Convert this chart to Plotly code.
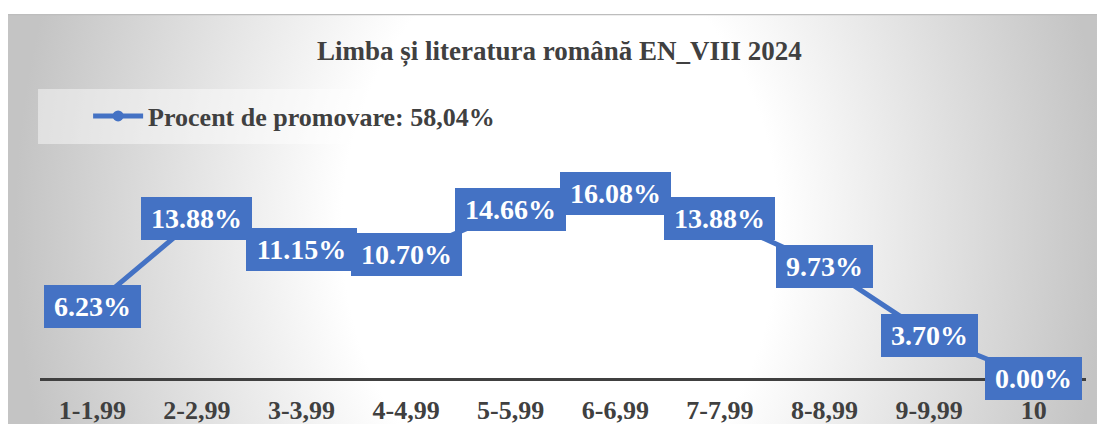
import base64
import plotly.graph_objects as go

categories = ["1-1,99", "2-2,99", "3-3,99", "4-4,99", "5-5,99", "6-6,99",
              "7-7,99", "8-8,99", "9-9,99", "10"]
values = [6.23, 13.88, 11.15, 10.70, 14.66, 16.08, 13.88, 9.73, 3.70, 0.00]
series_name = "Procent de promovare: 58,04%"
title_text = "Limba și literatura română EN_VIII 2024"

BLUE = "#4472C4"
DARK = "#404040"
FONT = "Liberation Serif"
LABEL_SIZE = 28

svg = ('<svg xmlns="http://www.w3.org/2000/svg" width="1089" height="410" '
       'viewBox="0 0 1089 410" preserveAspectRatio="none"><defs>'
       '<radialGradient id="g" gradientUnits="userSpaceOnUse" cx="552" cy="216" r="545" '
       'gradientTransform="translate(552 216) scale(1 1.3) translate(-552 -216)">'
       '<stop offset="0.4" stop-color="#ffffff"/>'
       '<stop offset="1" stop-color="#c4c4c4"/></radialGradient></defs>'
       '<rect width="1089" height="410" fill="url(#g)"/>'
       '<line x1="0" y1="0.5" x2="1089" y2="0.5" stroke="#bdbdbd" stroke-width="1.5"/></svg>')
bg_uri = "data:image/svg+xml;base64," + base64.b64encode(svg.encode()).decode()


def text_em(s):
    w = 0.0
    for ch in s:
        w += 1.0 if ch == "%" else (0.25 if ch == "." else 0.5)
    return w


fig = go.Figure()
fig.add_trace(go.Scatter(
    x=categories, y=values, mode="lines+markers", name=series_name,
    line=dict(color=BLUE, width=5),
    marker=dict(color=BLUE, size=11, symbol="circle"),
    showlegend=True,
))

annotations = []
for i, v in enumerate(values):
    label = f"{v:.2f}%"
    annotations.append(dict(
        x=i, y=v, xref="x", yref="y", text=label, showarrow=False,
        width=text_em(label) * LABEL_SIZE + 8, align="center",
        bgcolor=BLUE, bordercolor=BLUE, borderwidth=1, borderpad=5,
        font=dict(family=FONT, size=LABEL_SIZE, color="white", weight="bold"),
    ))

# plot area: x 40..1086 px, y 148..378 px
fig.update_layout(
    width=1097, height=425,
    margin=dict(l=40, r=11, t=148, b=47, autoexpand=False),
    paper_bgcolor="white", plot_bgcolor="rgba(0,0,0,0)",
    title=dict(text=title_text, x=0.51, xanchor="center", y=0.882, yanchor="middle",
               font=dict(family=FONT, size=27, color=DARK, weight="bold")),
    images=[dict(source=bg_uri, xref="paper", yref="paper",
                 x=-0.0306, y=1.5826, sizex=1.0411, sizey=1.7826,
                 xanchor="left", yanchor="top", sizing="stretch", layer="below")],
    shapes=[dict(type="rect", xref="paper", yref="paper",
                 x0=-0.0019, x1=0.4856, y0=1.017, y1=1.256,
                 fillcolor="rgba(255,255,255,0.45)", line=dict(width=0), layer="below")],
    legend=dict(x=0.046, y=1.139, xanchor="left", yanchor="middle",
                bgcolor="rgba(0,0,0,0)", itemwidth=50,
                font=dict(family=FONT, size=26, color=DARK, weight="bold")),
    xaxis=dict(type="category", range=[-0.5, 9.5], showgrid=False, zeroline=False,
               showline=True, linecolor=DARK, linewidth=3, ticks="",
               ticklabelstandoff=7,
               tickfont=dict(family=FONT, size=26, color=DARK, weight="bold")),
    yaxis=dict(range=[0, 20], visible=False, showgrid=False, zeroline=False),
    annotations=annotations,
)

fig.write_html("out.html", config={"displayModeBar": False},
               post_script="document.body.style.margin='0px';")
